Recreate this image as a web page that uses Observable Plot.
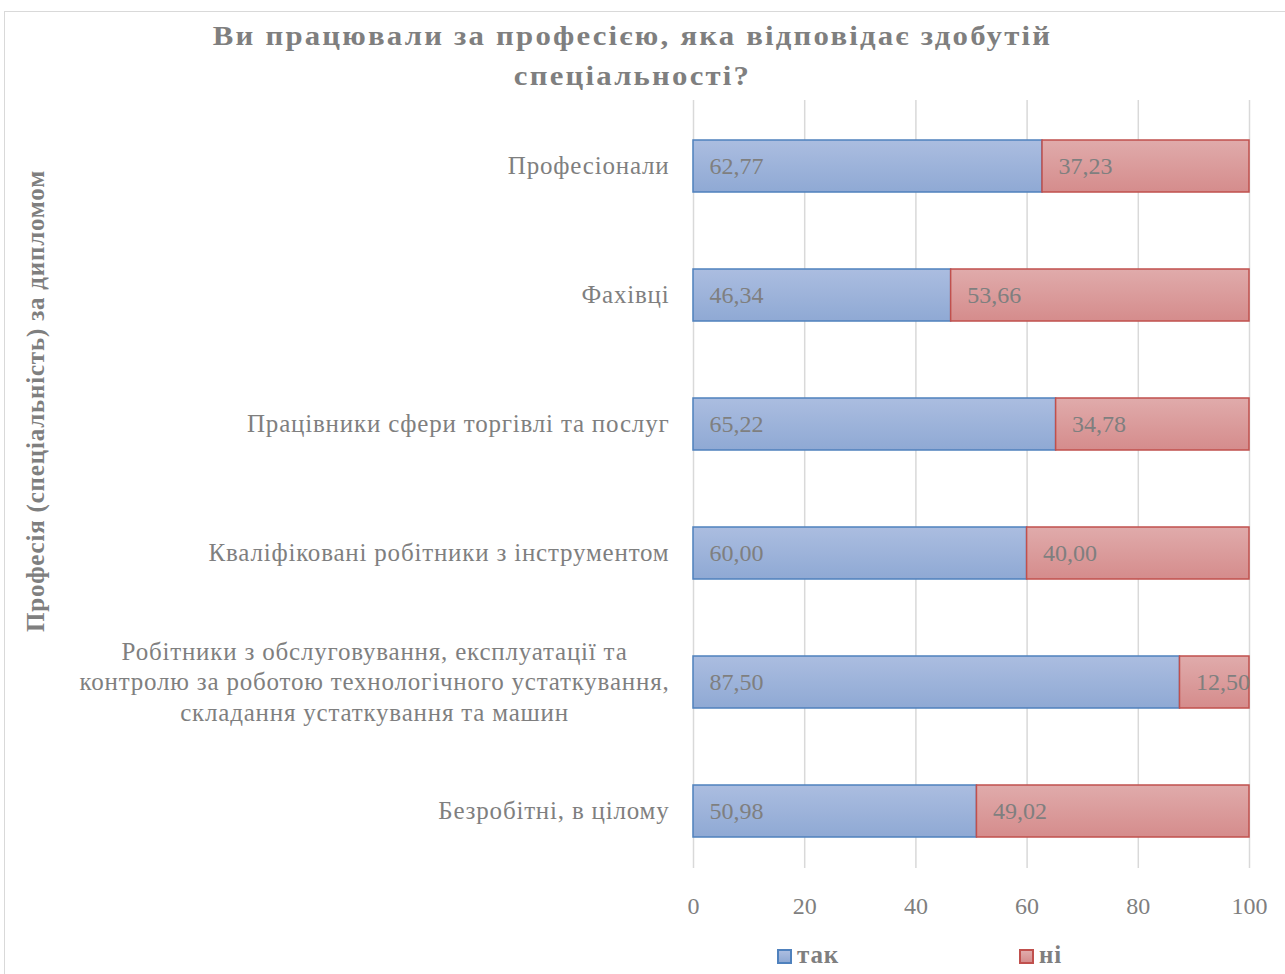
<!DOCTYPE html>
<html>
<head>
<meta charset="utf-8">
<script src="https://cdn.jsdelivr.net/npm/d3@7"></script>
<script src="https://cdn.jsdelivr.net/npm/@observablehq/plot@0.6"></script>
<style>
  html, body { margin: 0; padding: 0; background: #fff; overflow: hidden; }
  #wrap { position: relative; width: 1285px; height: 974px; font-family: "Liberation Serif", "Times New Roman", serif; color: #7f7f7f; }
  #frame { position: absolute; left: 4px; top: 11px; width: 1300px; height: 1000px; border: 1px solid #d9d9d9; box-sizing: border-box; }
  #title { position: absolute; left: 0; width: 1265px; top: 16px; text-align: center; font-weight: bold; font-size: 28px; letter-spacing: 2px; line-height: 40px; color: #7f7f7f; transform: scaleX(1.1); transform-origin: 632px 0; }
  #ylab { position: absolute; left: 36px; top: 401px; transform: translate(-50%, -50%) rotate(-90deg); white-space: nowrap; font-weight: bold; font-size: 25px; letter-spacing: 0.8px; color: #7f7f7f; }
  #chart { position: absolute; left: 0; top: 0; }
  .leg { position: absolute; top: 941px; font-weight: bold; font-size: 25px; letter-spacing: 0.8px; color: #7f7f7f; display: flex; align-items: center; }
  .sw { width: 11px; height: 11px; border: 2px solid; margin-right: 5px; margin-top: 2px; }
</style>
</head>
<body>
<div id="wrap">
  <div id="frame"></div>
  <div id="chart"></div>
  <div id="title">Ви працювали за професією, яка відповідає здобутій<br>спеціальності?</div>
  <div id="ylab">Професія (спеціальність) за дипломом</div>
  <div class="leg" style="left:777px"><span class="sw" style="background:linear-gradient(#abbde0,#8fa9d4);border-color:#4f81bd"></span>так</div>
  <div class="leg" style="left:1019px"><span class="sw" style="background:linear-gradient(#e0abab,#d58c8c);border-color:#c0504d"></span>ні</div>
</div>
<script>
const categories = [
  "Професіонали",
  "Фахівці",
  "Працівники сфери торгівлі та послуг",
  "Кваліфіковані робітники з інструментом",
  "Робітники з обслуговування, експлуатації та\nконтролю за роботою технологічного устаткування,\nскладання устаткування та машин",
  "Безробітні, в цілому"
];
const yesValues = [62.77, 46.34, 65.22, 60.00, 87.50, 50.98];
const noValues  = [37.23, 53.66, 34.78, 40.00, 12.50, 49.02];
const seriesNames = ["так", "ні"];
const xTicks = [0, 20, 40, 60, 80, 100];

const rows = categories.map((c, i) => ({cat: c, yes: yesValues[i], no: noValues[i]}));
const fmt = v => v.toFixed(2).replace(".", ",");

const plot = Plot.plot({
  width: 1285,
  height: 974,
  marginTop: 100,
  marginBottom: 97,
  marginLeft: 693,
  marginRight: 36,
  style: {fontFamily: "Liberation Serif, Times New Roman, serif", fontSize: "24px", color: "#7f7f7f", background: "transparent"},
  x: {domain: [0, 100]},
  y: {domain: categories, paddingInner: 0.6, paddingOuter: 0.3},
  marks: [
    Plot.gridX(xTicks, {stroke: "#d9d9d9", strokeOpacity: 1, strokeWidth: 1.5, insetBottom: 9}),
    Plot.axisX(xTicks, {tickSize: 0, tickPadding: 19, label: null, tickFormat: d => String(d)}),
    Plot.axisY({tickSize: 0, tickPadding: 24, label: null, lineHeight: 1.22, dy: -2, fontSize: 25}),
    Plot.barX(rows, {x1: 0, x2: "yes", y: "cat", fill: "url(#gYes)", stroke: "#4f81bd", strokeWidth: 1.5}),
    Plot.barX(rows, {x1: "yes", x2: d => d.yes + d.no, y: "cat", fill: "url(#gNo)", stroke: "#c0504d", strokeWidth: 1.5}),
    Plot.text(rows, {x: 0, y: "cat", text: d => fmt(d.yes), textAnchor: "start", dx: 16, fill: "#7f7f7f"}),
    Plot.text(rows, {x: "yes", y: "cat", text: d => fmt(d.no), textAnchor: "start", dx: 16, fill: "#7f7f7f"})
  ]
});

const svg = d3.select(plot);
const defs = svg.insert("defs", ":first-child");
const g1 = defs.append("linearGradient").attr("id", "gYes").attr("x1", 0).attr("y1", 0).attr("x2", 0).attr("y2", 1);
g1.append("stop").attr("offset", "0%").attr("stop-color", "#abbde0");
g1.append("stop").attr("offset", "100%").attr("stop-color", "#8fa9d4");
const g2 = defs.append("linearGradient").attr("id", "gNo").attr("x1", 0).attr("y1", 0).attr("x2", 0).attr("y2", 1);
g2.append("stop").attr("offset", "0%").attr("stop-color", "#e0abab");
g2.append("stop").attr("offset", "100%").attr("stop-color", "#d58c8c");

document.getElementById("chart").appendChild(plot);

// category labels: wider letter spacing like the original
svg.selectAll('g[aria-label="y-axis tick label"] text').style("letter-spacing", "0.8px");

// center the multi-line category label as a block, right-aligned to the axis
svg.selectAll("text").each(function() {
  const t = this;
  const spans = t.querySelectorAll("tspan");
  if (spans.length > 1 && t.textContent.startsWith("Робітники")) {
    const bb = t.getBBox();
    const cx = bb.x + bb.width / 2;
    t.setAttribute("text-anchor", "middle");
    spans.forEach(s => s.setAttribute("x", cx));
  }
});
</script>
</body>
</html>
